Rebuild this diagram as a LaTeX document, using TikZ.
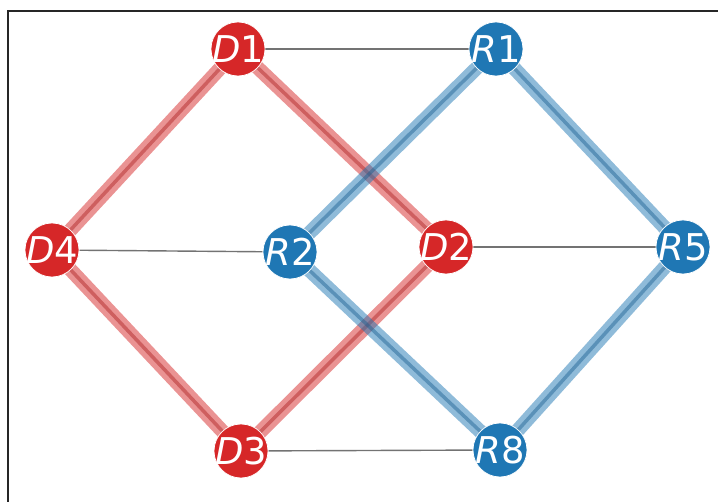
\documentclass[tikz,border=0pt]{standalone}
\usepackage{fontspec}
\setmainfont{DejaVu Sans}
\usetikzlibrary{positioning, backgrounds}

\definecolor{dred}{RGB}{214,39,40}
\definecolor{rblue}{RGB}{31,119,180}

\begin{document}
\begin{tikzpicture}[x=0.02cm, y=-0.02cm,
    party/.style={circle, minimum size=1.08cm, inner sep=0pt, draw=white, line width=0.4pt,
                  text=white, font=\fontsize{21}{21}\selectfont},
    dem/.style={party, fill=dred},
    rep/.style={party, fill=rblue},
    tie/.style={line width=0.8pt, draw=black!55},
    dband/.style={line width=8pt, draw=dred, draw opacity=0.5},
    rband/.style={line width=8pt, draw=rblue, draw opacity=0.5},
    dcore/.style={line width=2pt, draw=dred!80!black, draw opacity=0.45},
    rcore/.style={line width=2pt, draw=rblue!80!black, draw opacity=0.45}]
    \useasboundingbox (0,0) rectangle (718,502);
    % frame
    \draw[line width=1.2pt, black!85] (718,11) -- (8,11) -- (8,502);

    % Nodes
    \node (d1) [dem] at (238,49) {\makebox[0pt]{\textit{D}1}};
    \node (d4) [dem] at (52,250) {\makebox[0pt]{\textit{D}4}};
    \node (d2) [dem] at (446,247) {\makebox[0pt]{\textit{D}2}};
    \node (d3) [dem] at (241,451) {\makebox[0pt]{\textit{D}3}};
    \node (r1) [rep] at (496,49) {\makebox[0pt]{\textit{R}1}};
    \node (r2) [rep] at (290,252) {\makebox[0pt]{\textit{R}2}};
    \node (r5) [rep] at (683,247) {\makebox[0pt]{\textit{R}5}};
    \node (r8) [rep] at (500,450) {\makebox[0pt]{\textit{R}8}};

    \begin{scope}[on background layer]
    % Thin ties
    \draw [tie] (d1) -- (r1);
    \draw [tie] (d4) -- (r2);
    \draw [tie] (d2) -- (r5);
    \draw [tie] (d3) -- (r8);
    % Red diamond
    \foreach \a/\b in {d1/d4, d1/d2, d4/d3, d2/d3} {
        \draw [dband] (\a.center) -- (\b.center);
        \draw [dcore] (\a.center) -- (\b.center);
    }
    % Blue diamond
    \foreach \a/\b in {r1/r2, r1/r5, r2/r8, r5/r8} {
        \draw [rband] (\a.center) -- (\b.center);
        \draw [rcore] (\a.center) -- (\b.center);
    }
    \end{scope}
\end{tikzpicture}
\end{document}
